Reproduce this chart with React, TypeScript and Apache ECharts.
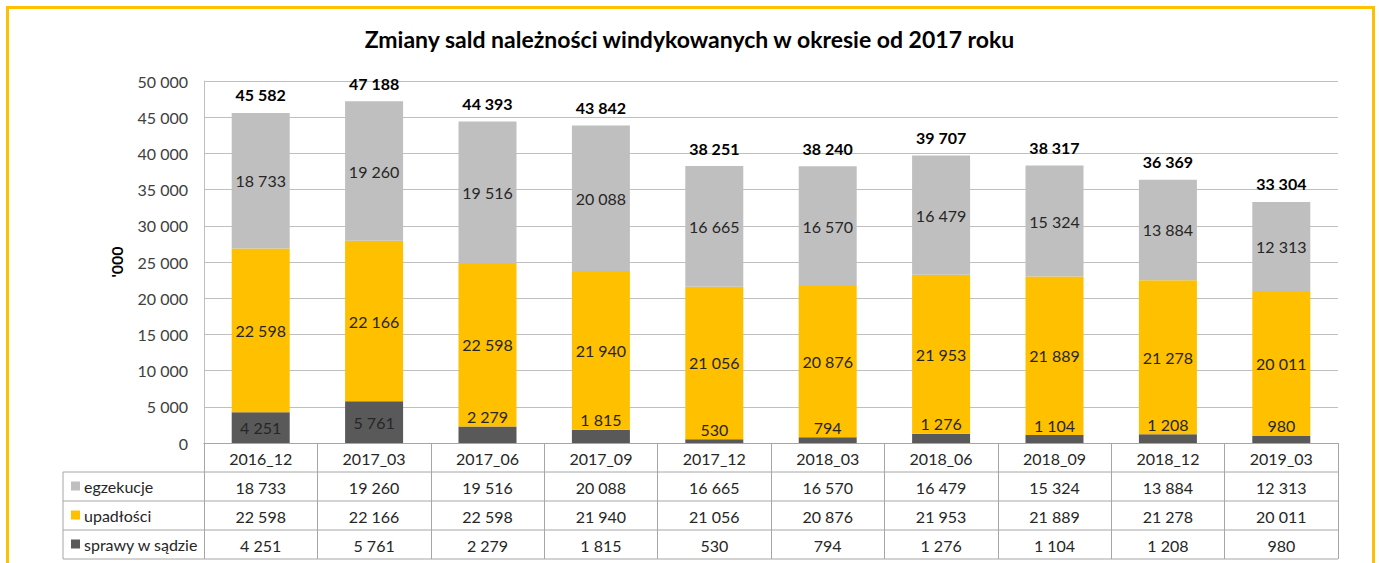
import React, { useEffect, useRef } from "react";
import * as echarts from "echarts";

const categories = ["2016_12", "2017_03", "2017_06", "2017_09", "2017_12", "2018_03", "2018_06", "2018_09", "2018_12", "2019_03"];
const egzekucje = [18733, 19260, 19516, 20088, 16665, 16570, 16479, 15324, 13884, 12313];
const upadlosci = [22598, 22166, 22598, 21940, 21056, 20876, 21953, 21889, 21278, 20011];
const sprawy = [4251, 5761, 2279, 1815, 530, 794, 1276, 1104, 1208, 980];
const totals = [45582, 47188, 44393, 43842, 38251, 38240, 39707, 38317, 36369, 33304];
const yTicks = { min: 0, max: 50000, interval: 5000 };
const seriesNames = ["egzekucje", "upadłości", "sprawy w sądzie"];
const title = "Zmiany sald należności windykowanych w okresie od 2017 roku";
const yName = "'000";

const fmt = (n: number) => String(n).replace(/\B(?=(\d{3})+(?!\d))/g, " ");
const FONT = "Lato, 'Open Sans', sans-serif";

export default function App() {
  const ref = useRef<HTMLDivElement>(null);
  useEffect(() => {
    document.body.style.margin = "0";
    const chart = echarts.init(ref.current!, null, { renderer: "svg" });
    const gridLeft = 204, gridTop = 81, gridW = 1134, gridH = 362;
    const tableColor = "#A6A6A6";
    const rowH = 29;
    const bottom = gridTop + gridH;
    const labelStyle = { fontSize: 16, color: "#262626", fontFamily: FONT };
    const barW = 58;
    const segLabel = (v: number) => ({
      show: true,
      position: v < 3000 ? "top" : "inside",
      distance: 2,
      formatter: fmt(v),
      ...labelStyle,
    });
    const rowAxis = (vals: number[], idx: number) => ({
      type: "category",
      data: vals.map(fmt),
      position: "bottom",
      offset: rowH * idx,
      axisLine: { show: false },
      axisTick: { show: false },
      axisLabel: { margin: 7, ...labelStyle, interval: 0 },
    });
    const tableLines: any[] = [];
    for (let i = 1; i <= 4; i++) {
      tableLines.push({
        type: "line",
        shape: { x1: 63, y1: bottom + rowH * i, x2: gridLeft + gridW, y2: bottom + rowH * i },
        style: { stroke: tableColor, lineWidth: 1 },
        silent: true,
      });
    }
    tableLines.push({
      type: "line",
      shape: { x1: 63, y1: bottom + rowH, x2: 63, y2: bottom + rowH * 4 },
      style: { stroke: tableColor, lineWidth: 1 },
      silent: true,
    });
    chart.setOption({
      animation: false,
      backgroundColor: "#fff",
      textStyle: { fontFamily: FONT },
      title: {
        text: title,
        left: "center",
        top: 22,
        textStyle: { fontSize: 23, fontWeight: "bold", color: "#000", fontFamily: FONT },
      },
      legend: {
        data: seriesNames,
        orient: "vertical",
        left: 66,
        top: bottom + rowH + 1,
        icon: "rect",
        itemWidth: 9,
        itemHeight: 9,
        itemGap: 13,
        textStyle: { fontSize: 16, color: "#262626", lineHeight: 16, fontFamily: FONT, padding: [0, 0, 0, -1] },
        selectedMode: false,
      },
      grid: { left: gridLeft, top: gridTop, width: gridW, height: gridH },
      xAxis: [
        {
          type: "category",
          data: categories,
          axisLine: { lineStyle: { color: tableColor } },
          axisTick: { show: true, length: rowH * 4, lineStyle: { color: tableColor } },
          axisLabel: { margin: 7, ...labelStyle, interval: 0 },
        },
        rowAxis(egzekucje, 1),
        rowAxis(upadlosci, 2),
        rowAxis(sprawy, 3),
      ],
      yAxis: {
        type: "value",
        ...yTicks,
        name: yName,
        nameLocation: "middle",
        nameGap: 80,
        nameRotate: 90,
        nameTextStyle: { fontSize: 16, fontWeight: "bold", color: "#000", fontFamily: FONT },
        axisLine: { show: true, lineStyle: { color: "#BFBFBF" } },
        axisTick: { show: false },
        splitLine: { lineStyle: { color: "#BFBFBF" } },
        axisLabel: { margin: 16, ...labelStyle, color: "#404040", formatter: (v: number) => fmt(v) },
      },
      series: [
        {
          name: "sprawy w sądzie",
          type: "bar",
          stack: "a",
          barWidth: barW,
          itemStyle: { color: "#595959" },
          data: sprawy.map((v) => ({ value: v, label: segLabel(v) })),
        },
        {
          name: "upadłości",
          type: "bar",
          stack: "a",
          barWidth: barW,
          itemStyle: { color: "#FFC000" },
          data: upadlosci.map((v) => ({ value: v, label: segLabel(v) })),
        },
        {
          name: "egzekucje",
          type: "bar",
          stack: "a",
          barWidth: barW,
          itemStyle: { color: "#BFBFBF" },
          data: egzekucje.map((v) => ({ value: v, label: segLabel(v) })),
        },
        {
          name: "suma",
          type: "bar",
          barWidth: barW,
          barGap: "-100%",
          silent: true,
          z: 5,
          itemStyle: { color: "rgba(0,0,0,0)" },
          label: {
            show: true,
            position: "top",
            distance: 10,
            formatter: (p: any) => fmt(p.value),
            fontSize: 16,
            fontWeight: "bold",
            color: "#000",
            fontFamily: FONT,
          },
          data: totals,
        },
      ],
      graphic: [
        ...tableLines,
        {
          type: "rect",
          shape: { x: 7.5, y: 7.5, width: 1366, height: 620 },
          style: { fill: "none", stroke: "#FFC000", lineWidth: 3 },
          silent: true,
        },
      ],
    });
    return () => chart.dispose();
  }, []);
  return <div ref={ref} style={{ width: 1379, height: 563 }} />;
}
